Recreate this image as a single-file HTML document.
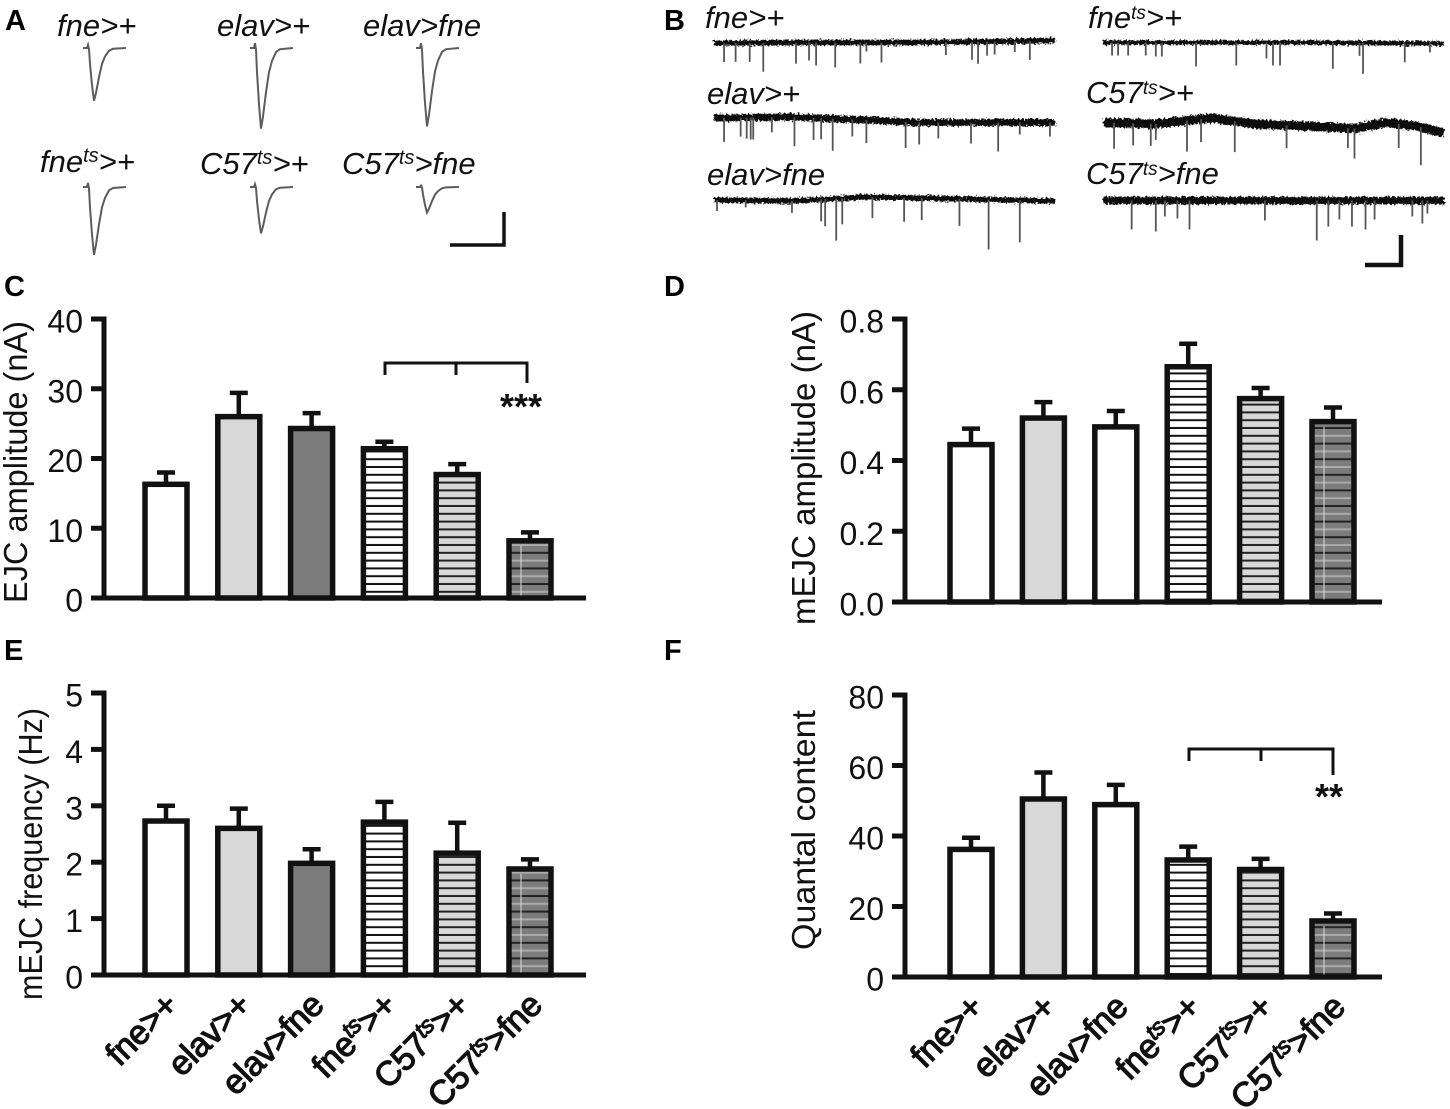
<!DOCTYPE html>
<html lang="en">
<head>
<meta charset="utf-8">
<title>EJC and mEJC recordings</title>
<style>
html,body{margin:0;padding:0;background:#fff;width:1450px;height:1109px;overflow:hidden}
svg{display:block}
text{font-family:"Liberation Sans",sans-serif;fill:#111}
.letter{font-weight:bold;font-size:29px;fill:#000}
.geno{font-style:italic;font-size:31px}
.title{font-size:33px}
.tick{font-size:32px;text-anchor:end}
.cat{font-size:34px;text-anchor:end;letter-spacing:-.3px;stroke:#111;stroke-width:1.2px}
</style>
</head>
<body>
<svg id="figure" width="1450" height="1109" viewBox="0 0 1450 1109" xmlns="http://www.w3.org/2000/svg">
<defs>
<pattern id="hatch-white" width="8" height="7.8" patternUnits="userSpaceOnUse"><rect width="8" height="7.8" fill="#fff"/><rect y="5.8" width="8" height="2" fill="#111"/></pattern>
<pattern id="hatch-light" width="8" height="7.8" patternUnits="userSpaceOnUse"><rect width="8" height="7.8" fill="#d8d8d8"/><rect y="5.8" width="8" height="2" fill="#222"/></pattern>
<pattern id="hatch-dark" width="8" height="15.6" patternUnits="userSpaceOnUse"><rect width="8" height="15.6" fill="#7c7c7c"/><rect y="5.8" width="8" height="2" fill="#222"/><rect y="13.6" width="8" height="2" fill="#aaa"/></pattern>
<filter id="noise" filterUnits="userSpaceOnUse" x="690" y="20" width="760" height="200"><feTurbulence type="fractalNoise" baseFrequency="0.5" numOctaves="2" seed="4"/><feDisplacementMap in="SourceGraphic" scale="6"/></filter>
</defs>
<rect width="1450" height="1109" fill="#fff"/>

<text class="letter" x="5" y="30">A</text>
<text class="letter" x="664" y="30">B</text>
<text class="letter" x="4" y="296">C</text>
<text class="letter" x="664" y="296">D</text>
<text class="letter" x="4" y="660">E</text>
<text class="letter" x="664" y="660">F</text>

<g>
<text class="geno" x="57" y="36">fne&gt;+</text>
<text class="geno" x="217" y="36">elav&gt;+</text>
<text class="geno" x="363" y="36">elav&gt;fne</text>
<text class="geno" x="40" y="172">fne<tspan dy="-10" font-size="20">ts</tspan><tspan dy="10">&gt;+</tspan></text>
<text class="geno" x="200" y="174">C57<tspan dy="-10" font-size="20">ts</tspan><tspan dy="10">&gt;+</tspan></text>
<text class="geno" x="342" y="174">C57<tspan dy="-10" font-size="20">ts</tspan><tspan dy="10">&gt;fne</tspan></text>
</g>
<g>
<text class="geno" x="705" y="28">fne&gt;+</text>
<text class="geno" x="707" y="104">elav&gt;+</text>
<text class="geno" x="707" y="185">elav&gt;fne</text>
<text class="geno" x="1088" y="28">fne<tspan dy="-9" font-size="19">ts</tspan><tspan dy="9">&gt;+</tspan></text>
<text class="geno" x="1086" y="103">C57<tspan dy="-9" font-size="19">ts</tspan><tspan dy="9">&gt;+</tspan></text>
<text class="geno" x="1086" y="184">C57<tspan dy="-9" font-size="19">ts</tspan><tspan dy="9">&gt;fne</tspan></text>
</g>

<path d="M450 245H504V212" fill="none" stroke="#111" stroke-width="3.5"/>
<path d="M1365 265H1401V235" fill="none" stroke="#111" stroke-width="4.5"/>

<text class="title" transform="translate(27 603) rotate(-90)" textLength="282" lengthAdjust="spacingAndGlyphs">EJC amplitude (nA)</text>
<text class="title" transform="translate(815 625) rotate(-90)" textLength="314" lengthAdjust="spacingAndGlyphs">mEJC amplitude (nA)</text>
<text class="title" transform="translate(42 1000) rotate(-90)" textLength="292" lengthAdjust="spacingAndGlyphs">mEJC frequency (Hz)</text>
<text class="title" transform="translate(815 950) rotate(-90)" textLength="240" lengthAdjust="spacingAndGlyphs">Quantal content</text>

<g>
<path d="M385 375V363H527V383M456 363V375" fill="none" stroke="#111" stroke-width="3"/>
<text x="500" y="419" font-size="36" font-weight="bold">***</text>
</g>
<g>
<path d="M1189 761V749H1333V775M1261 749V761" fill="none" stroke="#111" stroke-width="3"/>
<text x="1315" y="809" font-size="36" font-weight="bold">**</text>
</g>

<g id="traces"></g>
<g id="charts"></g>
</svg>

<script>
// Bar chart data
const categories = ['fne>+', 'elav>+', 'elav>fne', 'fne^ts>+', 'C57^ts>+', 'C57^ts>fne'];

const ejcTicks = ['0', '10', '20', '30', '40'];
const ejcMeans = [16.3, 26.0, 24.3, 21.4, 17.7, 8.2];
const ejcErrors = [1.7, 3.4, 2.2, 1.0, 1.5, 1.2];

const mejcAmpTicks = ['0.0', '0.2', '0.4', '0.6', '0.8'];
const mejcAmpMeans = [0.445, 0.52, 0.495, 0.665, 0.575, 0.51];
const mejcAmpErrors = [0.045, 0.045, 0.045, 0.065, 0.03, 0.04];

const mejcFreqTicks = ['0', '1', '2', '3', '4', '5'];
const mejcFreqMeans = [2.73, 2.6, 1.98, 2.71, 2.16, 1.88];
const mejcFreqErrors = [0.27, 0.35, 0.25, 0.36, 0.54, 0.17];

const quantalTicks = ['0', '20', '40', '60', '80'];
const quantalMeans = [36.2, 50.5, 48.9, 33.2, 30.5, 15.9];
const quantalErrors = [3.3, 7.5, 5.6, 3.8, 3.0, 2.1];

// Evoked current peak amplitudes (nA), panel A order
const evokedPeaks = [16.5, 25.2, 24.5, 21.2, 14.5, 8.0];

// Miniature recordings: event times (ms) and depths, baseline knots (ms, level)
const tr1Times = [20,43,71,98,163,189,203,241,291,303,333,461,513,525,543,558,598,628];
const tr1Depths = [19,19,19,29,21,18,23,25,21,9,20,13,18,22,14,13,11,19];
const tr1BaseT = [0,200,400,560,678];
const tr1BaseV = [43,42.5,42.5,41.5,40.5];

const tr2Times = [18,30,50,85,105,117,185,265,325,338,352,457,510,517,600,650];
const tr2Depths = [13,13,13,13,14,14,24,23,16,23,23,26,13,31,19,9];
const tr2BaseT = [0,400,678];
const tr2BaseV = [42.5,42.5,43.5];

const tr3Times = [20,53,65,73,78,115,160,198,213,236,275,303,381,408,446,511,565,608,668];
const tr3Depths = [24,19,21,22,22,15,29,22,21,32,17,23,26,22,16,21,29,12,14];
const tr3BaseT = [0,150,300,400,678];
const tr3BaseV = [118,117,120,122.5,122.5];

const tr4Times = [20,58,93,103,165,193,260,363,485,498,586,630];
const tr4Depths = [26,22,22,16,31,23,31,23,20,30,24,38];
const tr4BaseT = [0,100,215,300,400,500,560,620,676];
const tr4BaseV = [122.5,124,118,124,126,128.5,122.5,126,133];

const tr5Times = [6,63,155,213,221,243,255,315,378,413,488,546,608];
const tr5Depths = [11,7,12,22,27,42,26,21,24,22,27,50,42];
const tr5BaseT = [0,150,250,300,450,678];
const tr5BaseV = [200,201,198.5,197,198.5,201];

const tr6Times = [57,105,123,148,172,322,425,448,470,495,522,540,615,635,645];
const tr6Depths = [29,31,16,18,29,20,40,26,19,26,29,19,16,23,13];
const tr6BaseT = [0,300,678];
const tr6BaseV = [200.5,200.5,200.5];

const SVG_NS = 'http://www.w3.org/2000/svg';
const chartsRoot = document.getElementById('charts');
const tracesRoot = document.getElementById('traces');

function make(tag, parent) {
  const el = document.createElementNS(SVG_NS, tag);
  parent.appendChild(el);
  return el;
}

function drawCategoryLabel(parent, text, x, y) {
  const el = make('text', parent);
  
  
  el.setAttribute('class', 'cat');
  el.setAttribute('transform', 'translate(' + x + ' ' + y + ') rotate(-45)');
  const parts = text.split('^ts');
  const first = make('tspan', el);
  first.textContent = parts[0];
  if (parts.length > 1) {
    const sup = make('tspan', el);
    sup.setAttribute('dy', '-11');
    sup.setAttribute('font-size', '23');
    sup.setAttribute('font-style', 'italic');
    sup.textContent = 'ts';
    const rest = make('tspan', el);
    rest.setAttribute('dy', '11');
    rest.textContent = parts[1];
  }
}

function drawBarChart(key, means, errors, ticks, tickMax, frame, styles, showCats) {
  const g = make('g', chartsRoot);
  
  

  const tickMin = 0;
  const y = v => frame.y0 - (v - tickMin) / (tickMax - tickMin) * (frame.y0 - frame.yTop);
  const barX = i => frame.firstX + i * frame.stepX;
  const halfW = 21;

  means.forEach((m, i) => {
    const cx = barX(i);
    const top = y(m + errors[i]);

    const err = make('path', g);
    
    
    err.setAttribute('d', 'M' + cx + ' ' + y(m) + 'V' + top + 'M' + (cx - 9) + ' ' + top + 'H' + (cx + 9));
    err.setAttribute('fill', 'none');
    err.setAttribute('stroke', '#111');
    err.setAttribute('stroke-width', '4.5');

    const bar = make('rect', g);
    
    
    bar.setAttribute('x', cx - halfW);
    bar.setAttribute('y', y(m));
    bar.setAttribute('width', halfW * 2);
    bar.setAttribute('height', frame.y0 - y(m));
    bar.setAttribute('fill', styles[i]);
    bar.setAttribute('stroke', '#111');
    bar.setAttribute('stroke-width', '5.5');

    if (styles[i] === 'url(#hatch-dark)') {
      const seam = make('path', g);
      
      
      seam.setAttribute('d', 'M' + (cx - 9) + ' ' + (y(m) + 5) + 'V' + frame.y0);
      seam.setAttribute('stroke', '#ddd');
      seam.setAttribute('stroke-width', '1');
    }
  });

  const axis = make('path', g);
  
  
  axis.setAttribute('d', 'M' + frame.axisX + ' ' + (frame.y0 + 2) + 'V' + (y(tickMax) - 2.5) + 'M' + (frame.axisX - 13) + ' ' + frame.y0 + 'H' + frame.xEnd);
  axis.setAttribute('fill', 'none');
  axis.setAttribute('stroke', '#111');
  axis.setAttribute('stroke-width', '5');

  ticks.forEach(label => {
    const v = parseFloat(label);
    const mark = make('path', g);
    
    
    mark.setAttribute('d', 'M' + (frame.axisX - 13) + ' ' + y(v) + 'H' + frame.axisX);
    mark.setAttribute('stroke', '#111');
    mark.setAttribute('stroke-width', '5');

    const t = make('text', g);
    
    
    t.setAttribute('class', 'tick');
    t.setAttribute('x', frame.axisX - 21);
    t.setAttribute('y', y(v) + 13.5);
    t.textContent = label;
  });

  if (showCats) {
    categories.forEach((c, i) => {
      drawCategoryLabel(g, c, barX(i) + frame.labelDX, frame.y0 + frame.labelDY);
    });
  }
}

function evokedPath(x0, base, peak) {
  // Fixed waveform shape, scaled by the peak amplitude (3.2 px per nA)
  const shapeDx = [0,4,5,6,7,9,11,13,16,19,22,26,30,43];
  const shapeFrac = [0,0,-.06,.02,.3,.7,1,.85,.55,.3,.16,.05,.015,0];
  const d = shapeDx.map((dx, i) => (i ? 'L' : 'M') + (x0 + dx) + ' ' + (base + shapeFrac[i] * peak * 3.2));
  return d.join('');
}

function drawEvoked(peak, x0, base) {
  const el = make('path', tracesRoot);
  
  
  el.setAttribute('d', evokedPath(x0, base, peak));
  el.setAttribute('fill', 'none');
  el.setAttribute('stroke', '#5c5c5c');
  el.setAttribute('stroke-width', '2');
}

function drawMini(times, depths, baseT, baseV, x0, width, baseWidth) {
  const tx = t => x0 + t / 678 * width;
  const level = t => {
    for (let k = 0; k < baseT.length - 1; k++) {
      if (t <= baseT[k + 1]) {
        const f = (t - baseT[k]) / (baseT[k + 1] - baseT[k]);
        return baseV[k] + f * (baseV[k + 1] - baseV[k]);
      }
    }
    return baseV[baseV.length - 1];
  };
  const line = make('path', tracesRoot);
  
  
  line.setAttribute('d', baseT.map((t, i) => (i ? 'L' : 'M') + tx(t) + ' ' + baseV[i]).join(''));
  line.setAttribute('fill', 'none');
  line.setAttribute('stroke', '#111');
  line.setAttribute('stroke-width', baseWidth);
  line.setAttribute('filter', 'url(#noise)');

  const ev = make('path', tracesRoot);
  
  
  ev.setAttribute('d', times.map((t, i) => 'M' + tx(t) + ' ' + level(t) + 'V' + (level(t) + depths[i])).join(''));
  ev.setAttribute('fill', 'none');
  ev.setAttribute('stroke', '#555');
  ev.setAttribute('stroke-width', '1.8');
}

drawEvoked(evokedPeaks[0], 83, 48);
drawEvoked(evokedPeaks[1], 250, 48);
drawEvoked(evokedPeaks[2], 416, 48);
drawEvoked(evokedPeaks[3], 83, 187);
drawEvoked(evokedPeaks[4], 250, 187);
drawEvoked(evokedPeaks[5], 416, 187);

drawMini(tr1Times, tr1Depths, tr1BaseT, tr1BaseV, 714, 341, 5.5);
drawMini(tr2Times, tr2Depths, tr2BaseT, tr2BaseV, 1103, 341, 4.5);
drawMini(tr3Times, tr3Depths, tr3BaseT, tr3BaseV, 714, 341, 7);
drawMini(tr4Times, tr4Depths, tr4BaseT, tr4BaseV, 1104, 341, 9);
drawMini(tr5Times, tr5Depths, tr5BaseT, tr5BaseV, 714, 341, 5.5);
drawMini(tr6Times, tr6Depths, tr6BaseT, tr6BaseV, 1103, 341, 7.5);

const leftFrame = { axisX: 104, firstX: 166, stepX: 72.8, xEnd: 586, labelDX: 14, labelDY: 32 };
const rightFrame = { axisX: 905, firstX: 971, stepX: 72.4, xEnd: 1382, labelDX: 14, labelDY: 32 };
const whiteBar = '#fff', lightBar = '#d8d8d8', darkBar = '#7c7c7c';
const hw = 'url(#hatch-white)', hl = 'url(#hatch-light)', hd = 'url(#hatch-dark)';

drawBarChart('c-ejc-amplitude', ejcMeans, ejcErrors, ejcTicks, 40,
  Object.assign({ y0: 598, yTop: 319 }, leftFrame), [whiteBar, lightBar, darkBar, hw, hl, hd], false);
drawBarChart('d-mejc-amplitude', mejcAmpMeans, mejcAmpErrors, mejcAmpTicks, 0.8,
  Object.assign({ y0: 602, yTop: 319 }, rightFrame), [whiteBar, lightBar, whiteBar, hw, hl, hd], false);
drawBarChart('e-mejc-frequency', mejcFreqMeans, mejcFreqErrors, mejcFreqTicks, 5,
  Object.assign({ y0: 975, yTop: 693 }, leftFrame), [whiteBar, lightBar, darkBar, hw, hl, hd], true);
drawBarChart('f-quantal-content', quantalMeans, quantalErrors, quantalTicks, 80,
  Object.assign({ y0: 977, yTop: 695 }, rightFrame), [whiteBar, lightBar, whiteBar, hw, hl, hd], true);
</script>
</body>
</html>
